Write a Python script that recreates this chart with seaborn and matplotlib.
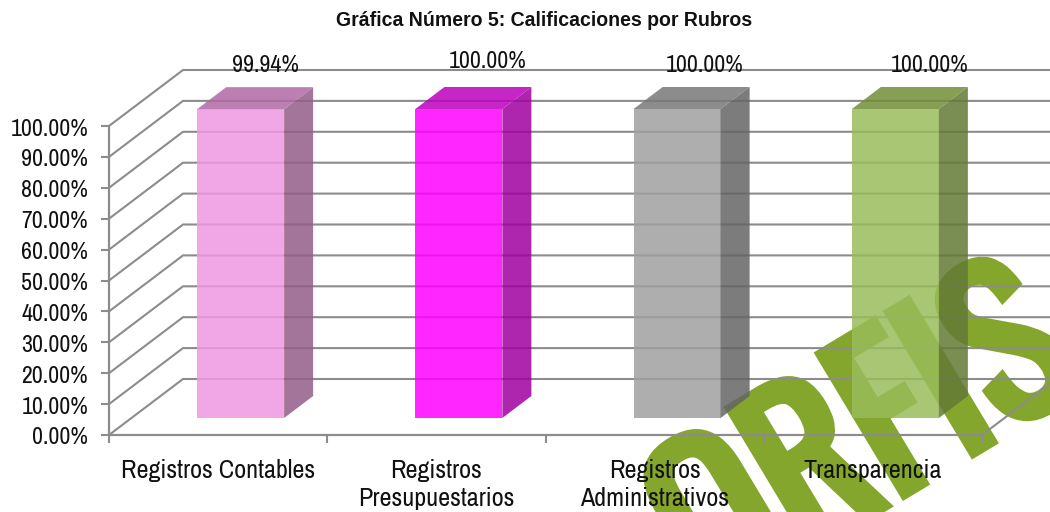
import matplotlib
matplotlib.use("Agg")
import matplotlib.pyplot as plt
import matplotlib.patheffects as pe
import pandas as pd
import seaborn as sns
from matplotlib.patches import Polygon
from matplotlib.transforms import Affine2D

categories = ["Registros Contables", "Registros\nPresupuestarios", "Registros\nAdministrativos", "Transparencia"]
values = [99.94, 100.0, 100.0, 100.0]
value_labels = ["99.94%", "100.00%", "100.00%", "100.00%"]
front_colors = ["#EF98E1", "#FF00FF", "#A0A0A0", "#99BC5A"]
side_colors = ["#945D89", "#A000A0", "#656565", "#637A36"]
top_colors = ["#B06AA4", "#BD00BD", "#787878", "#728D37"]
y_ticks = [0, 10, 20, 30, 40, 50, 60, 70, 80, 90, 100]
title = "Gráfica Número 5: Calificaciones por Rubros"
watermark = "ORFIS"

W, H = 1050, 512
sns.set_theme(style="white")
fonts = ["Archivo Narrow", "Liberation Sans", "DejaVu Sans"]
plt.rcParams["font.family"] = fonts
GRID = "#8C8C8C"
INK = "#111111"
FS = 17.2
FS_CAT = 18.8

fig = plt.figure(figsize=(W / 100, H / 100), dpi=100, facecolor="white")
L, R, T, B = 109, 982, 126, 435
ax = fig.add_axes([L / W, 1 - B / H, (R - L) / W, (B - T) / H])
ax.patch.set_alpha(0)
ax.set_zorder(1)

df = pd.DataFrame({"cat": categories, "val": values})
sns.barplot(data=df, x="cat", y="val", hue="cat", palette=front_colors, saturation=1,
            width=87 / 218.25, alpha=0.85, dodge=False, legend=False, ax=ax, zorder=3)
ax.set_xlim(-0.5, 3.5)
ax.set_ylim(0, 100)
ax.set_xlabel("")
ax.set_ylabel("")

ux = (R - L) / 4
uy = (B - T) / 100
wall_dx, wall_dy = 74 / ux, 56 / uy
bar_dx, bar_dy = 29 / ux, 22 / uy
plane = ax.transData + Affine2D().translate(22.5, 17)

for v in y_ticks:
    ax.plot([-0.5, -0.5 + wall_dx, 5], [v, v + wall_dy, v + wall_dy], color=GRID, lw=1.5,
            clip_on=False, zorder=1, solid_joinstyle="miter")
ax.plot([3.5, 3.5 + wall_dx], [0, wall_dy], color=GRID, lw=1.5, clip_on=False, zorder=1)

for i, patch in enumerate(ax.patches):
    patch.set_transform(plane)
    patch.set_clip_on(False)
    patch.set_linewidth(0)
    x0, w, h = patch.get_x(), patch.get_width(), patch.get_height()
    x1 = x0 + w
    side = [(x1, 0), (x1 + bar_dx, bar_dy), (x1 + bar_dx, h + bar_dy), (x1, h)]
    top = [(x0, h), (x0 + bar_dx, h + bar_dy), (x1 + bar_dx, h + bar_dy), (x1, h)]
    ax.add_patch(Polygon(side, closed=True, fc=side_colors[i], ec="none", alpha=0.85,
                         transform=plane, clip_on=False, zorder=3))
    ax.add_patch(Polygon(top, closed=True, fc=top_colors[i], ec="none", alpha=0.85,
                         transform=plane, clip_on=False, zorder=3))

label_dx = [47, 51, 50, 57]
label_dy = [61, 65, 61, 61]
for i, (v, s) in enumerate(zip(values, value_labels)):
    ax.annotate(s, xy=(i, 100), xytext=(label_dx[i], label_dy[i]), textcoords="offset pixels",
                ha="center", va="center", fontsize=FS, color=INK, zorder=5, annotation_clip=False)

sns.despine(ax=ax, top=True, right=True)
for s in ("left", "bottom"):
    ax.spines[s].set_color(GRID)
    ax.spines[s].set_linewidth(1.6)
ax.set_yticks(y_ticks)
ax.set_yticklabels([f"{v:.2f}%" for v in y_ticks])
ax.set_xticks([-0.5, 0.5, 1.5, 2.5, 3.5], minor=False)
ax.set_xticklabels([])
ax.set_xticks(range(4), minor=True)
ax.set_xticklabels(categories, minor=True, linespacing=1.3)
ax.tick_params(axis="y", which="major", left=True, length=6, width=1.5, color=GRID, pad=9,
               labelsize=FS, labelcolor=INK)
ax.tick_params(axis="x", which="major", bottom=True, length=6, width=1.5, color=GRID)
ax.tick_params(axis="x", which="minor", bottom=False, length=0, pad=17, labelsize=FS_CAT, labelcolor=INK)
for lab in ax.get_yticklabels():
    lab.set_transform(lab.get_transform() + Affine2D().translate(0, -1))

fig.text(544 / W, 1 - 21 / H, title, ha="center", va="center", fontsize=14.05, fontweight="bold",
         color=INK, family=["Liberation Sans"])

fig.text(866 / W, 1 - 445 / H, watermark, ha="center", va="center", rotation=31, rotation_mode="anchor",
         fontsize=146, color="#85A62C", family=["Oswald", "Roboto Condensed", "Asap Condensed"], zorder=-1,
         path_effects=[pe.withStroke(linewidth=6.5, foreground="#85A62C", joinstyle="miter")])

fig.savefig("out.png", dpi=100)
